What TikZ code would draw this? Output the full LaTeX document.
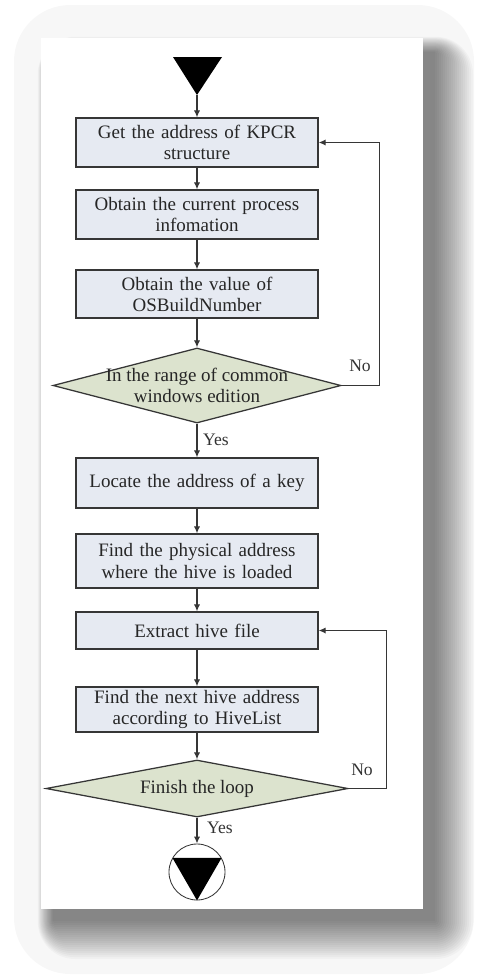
\documentclass[tikz,border=0pt]{standalone}
\usepackage{fontspec}
\setmainfont{Liberation Serif}
\usetikzlibrary{arrows.meta,shapes.geometric}

\definecolor{boxfill}{HTML}{E6EAF2}
\definecolor{decfill}{HTML}{DCE3CE}
\definecolor{linegray}{HTML}{363636}

\begin{document}
\begin{tikzpicture}[x=0.025cm, y=-0.025cm, >={Latex[length=5pt,width=4.5pt]},
		stepbox/.style={draw=linegray, line width=0.9pt, fill=boxfill, minimum width=6.05cm, text width=5.9cm, align=center, inner sep=0pt, font=\fontsize{13.5}{15}\selectfont, text=black!85},
		decbox/.style={diamond, draw=linegray, line width=0.9pt, fill=decfill, inner sep=0pt},
		dectext/.style={align=center, inner sep=0pt, font=\fontsize{13.5}{15}\selectfont, text=black!85},
		lbl/.style={inner sep=1pt, font=\fontsize{12.5}{14}\selectfont, text=black!80},
		flow/.style={->, draw=linegray, line width=0.9pt}]
		
		% Page and shadow
		\useasboundingbox (0,0) rectangle (487,980);
		\fill[black!3, rounded corners=40] (14,5) rectangle (474,974);
		\foreach \k in {0,...,19} {
			\pgfmathsetmacro{\d}{2*\k}
			\fill[black, opacity=0.027, rounded corners=\d*0.7pt] (53-0.4*\d,52-0.4*\d) rectangle (435+\d,921+\d);
		}
		\fill[white] (41,38) rectangle (423,909);
		
		% Start
		\fill[black] (173,57) -- (222,57) -- (197,95) -- cycle;
		\coordinate (start) at (197,95);
		
		% Steps
		\node[stepbox, minimum height=1.225cm] (box1) at (197,142.5) {Get the address of KPCR\\structure};
		\node[stepbox, minimum height=1.225cm] (box2) at (197,214.5) {Obtain the current process\\infomation};
		\node[stepbox, minimum height=1.2cm] (box3) at (197,294) {Obtain the value of\\OSBuildNumber};
		\node[decbox, minimum width=7.2cm, minimum height=1.875cm] (dec1) at (197,385.5) {};
		\node[dectext] (dec1txt) at (dec1.center) {In the range of common\\windows edition};
		\node[stepbox, minimum height=1.25cm] (box4) at (197,483) {Locate the address of a key};
		\node[stepbox, minimum height=1.35cm] (box5) at (197,561) {Find the physical address\\where the hive is loaded};
		\node[stepbox, minimum height=0.925cm] (box6) at (197,630.5) {Extract hive file};
		\node[stepbox, minimum height=1.125cm] (box7) at (197,709.5) {Find the next hive address\\according to HiveList};
		\node[decbox, minimum width=7.55cm, minimum height=1.425cm] (dec2) at (197,788.5) {};
		\node[dectext] (dec2txt) at (dec2.center) {Finish the loop};
		
		% End
		\node[circle, draw=linegray, line width=0.6pt, fill=white, minimum size=1.4cm, inner sep=0pt] (stop) at (197,872) {};
		\fill[black] (stop.150) -- (stop.30) -- (stop.-90) -- cycle;
		
		% Arrows
		\draw[flow] (start) -- (box1);
		\draw[flow] (box1) -- (box2);
		\draw[flow] (box2) -- (box3);
		\draw[flow] (box3) -- (dec1);
		\draw[flow] (dec1) -- (box4);
		\draw[flow] (box4) -- (box5);
		\draw[flow] (box5) -- (box6);
		\draw[flow] (box6) -- (box7);
		\draw[flow] (box7) -- (dec2);
		\draw[flow] (dec2) -- (stop);
		
		% Loops back
		\draw[flow] (dec1.east) -- ++(38,0) |- (box1.east);
		\draw[flow] (dec2.east) -- ++(38,0) |- (box6.east);
		
		% Labels
		\node[lbl] (no1) at (360,366) {No};
		\node[lbl] (yes1) at (216,440) {Yes};
		\node[lbl] (no2) at (362,770) {No};
		\node[lbl] (yes2) at (220,828) {Yes};
		
	\end{tikzpicture}
\end{document}
